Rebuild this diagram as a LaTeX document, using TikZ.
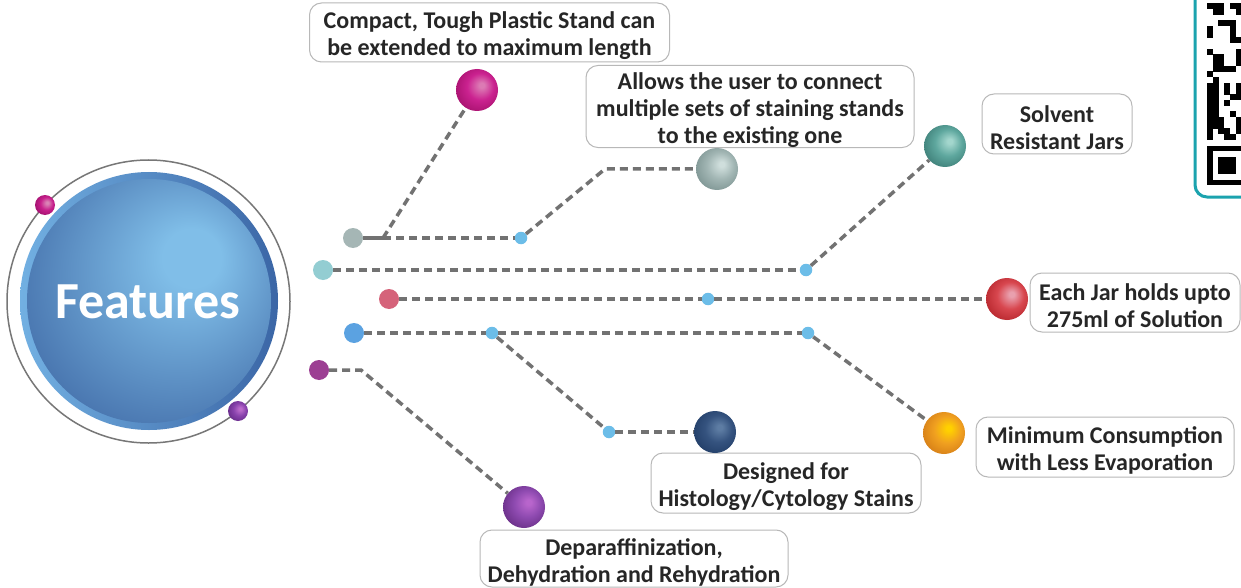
\documentclass[tikz,border=0pt]{standalone}
\usepackage{fontspec}
\setmainfont{Carlito}
\definecolor{linegray}{HTML}{727272}
\definecolor{txt}{HTML}{262626}
\definecolor{boxgray}{HTML}{B8B8B8}
\definecolor{junc}{HTML}{6CBDE8}
\definecolor{qrteal}{HTML}{1BA3AE}
\definecolor{ringgray}{HTML}{777777}
\definecolor{ringlight}{HTML}{72B0E2}
\definecolor{ringdark}{HTML}{3B66A6}
\definecolor{fhi}{HTML}{80BEE8}
\definecolor{fdark}{HTML}{3A62A0}
% dot colours
\definecolor{cA}{HTML}{A5B6B5}
\definecolor{cB}{HTML}{93CDD2}
\definecolor{cC}{HTML}{D5637A}
\definecolor{cD}{HTML}{5BA2E1}
\definecolor{cE}{HTML}{9C3F93}
% sphere colours: hi / base / dark
\definecolor{s1h}{HTML}{DC7AB4}\definecolor{s1b}{HTML}{CB2290}\definecolor{s1d}{HTML}{A8126F}
\definecolor{s2h}{HTML}{CFDEDC}\definecolor{s2b}{HTML}{A2B6B4}\definecolor{s2d}{HTML}{7F9694}
\definecolor{s3h}{HTML}{A3D6CD}\definecolor{s3b}{HTML}{5EA79E}\definecolor{s3d}{HTML}{3F8079}
\definecolor{s4h}{HTML}{E9A0AE}\definecolor{s4b}{HTML}{D8474F}\definecolor{s4d}{HTML}{B8282E}
\definecolor{s5h}{HTML}{FFD000}\definecolor{s5b}{HTML}{F0A020}\definecolor{s5d}{HTML}{D67F18}
\definecolor{s6h}{HTML}{5D7CA3}\definecolor{s6b}{HTML}{35537F}\definecolor{s6d}{HTML}{233F69}
\definecolor{s7h}{HTML}{B865CC}\definecolor{s7b}{HTML}{8E4AB0}\definecolor{s7d}{HTML}{6A3088}
\definecolor{rmh}{HTML}{DA84B6}\definecolor{rmb}{HTML}{C8208C}\definecolor{rmd}{HTML}{A0106E}
\definecolor{rph}{HTML}{BC6CCC}\definecolor{rpb}{HTML}{8842AC}\definecolor{rpd}{HTML}{682C8A}
\newcommand\mkball[4]{\pgfdeclareradialshading{ball#1}{\pgfpoint{6bp}{6bp}}{color(0bp)=(#2); color(3bp)=(#2); color(16bp)=(#3); color(30bp)=(#4); color(50bp)=(#4)}}
\mkball{S1}{s1h}{s1b}{s1d}
\mkball{S2}{s2h}{s2b}{s2d}
\mkball{S3}{s3h}{s3b}{s3d}
\mkball{S4}{s4h}{s4b}{s4d}
\mkball{S5}{s5h}{s5b}{s5d}
\mkball{S6}{s6h}{s6b}{s6d}
\mkball{S7}{s7h}{s7b}{s7d}
\mkball{RM}{rmh}{rmb}{rmd}
\mkball{RP}{rph}{rpb}{rpd}
\pgfdeclareradialshading{featdisk}{\pgfpoint{10bp}{10bp}}{color(0bp)=(fhi); color(6bp)=(fhi); color(38bp)=(fdark); color(50bp)=(fdark)}
\newcommand\topstrut{\rule{0pt}{24pt}}
\begin{document}
\begin{tikzpicture}[x=1pt,y=-1pt,
  lbl/.style={draw=boxgray, line width=1pt, rounded corners=12pt, fill=white, align=center,
    inner sep=0pt, font=\fontsize{24}{27}\selectfont\bfseries, text=txt},
  sph/.style={circle, inner sep=0pt, minimum size=42pt, shade, shading=#1},
  rsph/.style={circle, inner sep=0pt, minimum size=20pt, shade, shading=#1},
  pdot/.style={circle, inner sep=0pt, minimum size=20pt, fill=#1},
  jdot/.style={circle, inner sep=0pt, minimum size=12.5pt, fill=junc},
  dline/.style={draw=linegray, line width=3.5pt, dash pattern=on 8pt off 5pt},
  sline/.style={draw=linegray, line width=3.5pt}]
\useasboundingbox (0,0) rectangle (1241,588);
\fill[white] (0,0) rectangle (1241,588);

% Features circle
\node[circle, inner sep=0pt, minimum size=283pt, draw=ringgray, line width=1.5pt] (outer) at (148.5,301.5) {};
\node[circle, inner sep=0pt, minimum size=258pt, left color=ringlight, right color=ringdark] (ring) at (149,301) {};
\node[circle, inner sep=0pt, minimum size=244pt, shade, shading=featdisk] (disk) at (149,301) {};
\node[anchor=base, text=white, font=\fontsize{52}{52}\selectfont\bfseries, inner sep=0pt] (feat) at (148,318) {Features};
\node[rsph=ballRM] (rm) at (45,205) {};
\node[rsph=ballRP] (rp) at (238,411) {};

% QR code box
\begin{scope}
\clip (0,0) rectangle (1241,588);
\draw[qrteal, line width=3pt, rounded corners=12pt] (1195,-10) |- (1260,197);
\foreach \c/\r in {0/0,1/0,2/0,4/0,5/0, 1/1,2/1,5/1, 2/3,3/3,4/3, 0/4,4/4, 0/5,4/5, 4/6,5/6,
  0/8,5/8, 1/9,2/9,5/9, 1/10,2/10,5/10, 1/11,2/11,3/11,4/11, 0/12, 1/13,
  0/14,1/14,3/14,5/14, 0/15,1/15,3/15,5/15, 0/16,1/16,4/16,5/16, 0/17,1/17,3/17,
  0/18,1/18, 0/19,1/19,4/19, 0/20,1/20,2/20,5/20, 0/21,1/21,2/21,5/21,
  0/22,2/22,3/22,5/22, 0/23,3/23,4/23}
  \fill[black] (1207+5.7*\c, 3.1+5.7*\r) rectangle ++(6,6);
\fill[black] (1207,145.6) rectangle ++(39.9,39.9);
\fill[white] (1212.7,151.3) rectangle ++(28.5,28.5);
\fill[black] (1218.4,157) rectangle ++(17.1,17.1);
\end{scope}

% labels
\node[lbl, minimum width=360pt, minimum height=59pt] (L1) at (489.5,32.5) {\topstrut Compact, Tough Plastic Stand can\\be extended to maximum length};
\node[lbl, minimum width=328pt, minimum height=81pt] (L2) at (750,106.5) {\topstrut Allows the user to connect\\multiple sets of staining stands\\to the existing one};
\node[lbl, minimum width=150pt, minimum height=60pt] (L3) at (1057,124) {\topstrut Solvent\\Resistant Jars};
\node[lbl, minimum width=210pt, minimum height=59pt] (L4) at (1135,302.5) {\topstrut Each Jar holds upto\\275ml of Solution};
\node[lbl, minimum width=258pt, minimum height=60pt] (L5) at (1105,447) {\topstrut Minimum Consumption\\with Less Evaporation};
\node[lbl, minimum width=270pt, minimum height=60pt] (L6) at (786,483) {\topstrut Designed for\\Histology/Cytology Stains};
\node[lbl, minimum width=308pt, minimum height=57pt] (L7) at (634,558.5) {\topstrut Deparaffinization,\\Dehydration and Rehydration};

% origin dots
\node[pdot=cA] (A) at (353,238) {};
\node[pdot=cB] (B) at (323,270) {};
\node[pdot=cC] (C) at (389,299) {};
\node[pdot=cD] (D) at (354,333) {};
\node[pdot=cE] (E) at (319,370) {};
% junctions
\node[jdot] (J1) at (521,238) {};
\node[jdot] (J2) at (806,270) {};
\node[jdot] (J3) at (708,299) {};
\node[jdot] (J4) at (492,333) {};
\node[jdot] (J5) at (808,333) {};
\node[jdot] (J6) at (609,432) {};
% spheres
\node[sph=ballS1] (S1) at (477,90) {};
\node[sph=ballS2] (S2) at (717,169) {};
\node[sph=ballS3] (S3) at (945,146) {};
\node[sph=ballS4] (S4) at (1007,299) {};
\node[sph=ballS5] (S5) at (944,433) {};
\node[sph=ballS6] (S6) at (715,432) {};
\node[sph=ballS7] (S7) at (524,507) {};
% bends
\coordinate (bA) at (383,238);
\coordinate (bJ1) at (605,169);
\coordinate (bE) at (361,370);

% connectors
\draw[sline] (A) -- (bA);
\draw[dline] (bA) -- (J1);
\draw[dline] (bA) -- (S1);
\draw[dline] (J1) -- (bJ1) -- (S2);
\draw[dline] (B) -- (J2);
\draw[dline] (J2) -- (S3);
\draw[dline] (C) -- (J3);
\draw[dline] (J3) -- (S4);
\draw[dline] (D) -- (J4);
\draw[dline] (J4) -- (J5);
\draw[dline] (J5) -- (S5);
\draw[dline] (J4) -- (J6);
\draw[dline] (J6) -- (S6);
\draw[dline] (E) -- (bE) -- (S7);
\end{tikzpicture}
\end{document}
